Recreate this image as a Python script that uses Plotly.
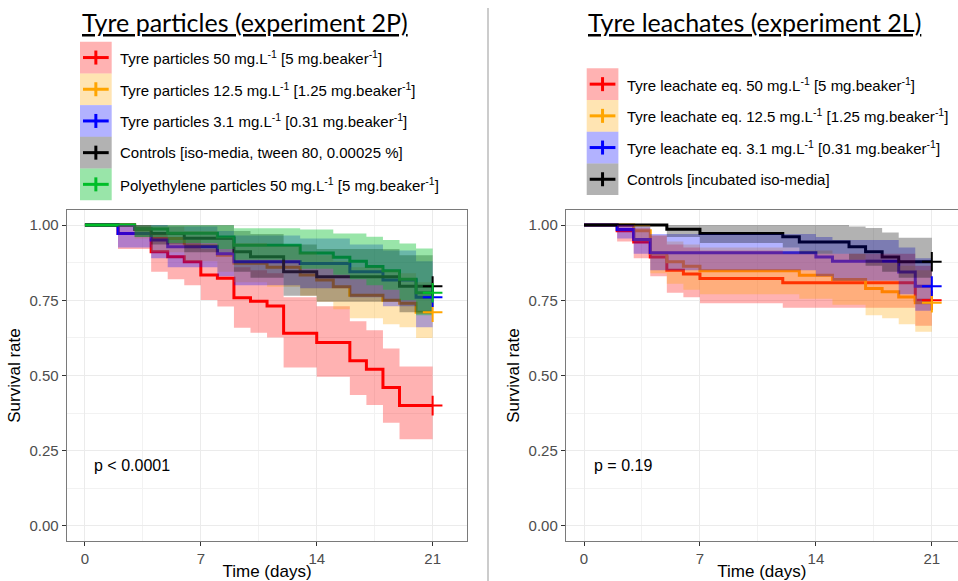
import plotly.graph_objects as go

W, H = 958, 581

# ---------------- Experiment 2P (tyre particles) ----------------
days_p50 = [0, 2, 4, 5, 6, 7, 8, 9, 10, 11, 12, 14, 16, 17, 18, 19, 21]
surv_p50 = [1, 0.972, 0.911, 0.895, 0.878, 0.834, 0.823, 0.758, 0.747, 0.731, 0.64, 0.61, 0.549, 0.521, 0.46, 0.40, 0.40]
up_p50 = [1, 1, 0.97, 0.96, 0.95, 0.92, 0.91, 0.86, 0.85, 0.84, 0.76, 0.73, 0.68, 0.65, 0.59, 0.53, 0.53]
lo_p50 = [1, 0.92, 0.845, 0.82, 0.80, 0.751, 0.729, 0.659, 0.642, 0.626, 0.527, 0.496, 0.435, 0.402, 0.343, 0.288, 0.288]

days_p12 = [0, 3, 4, 6, 8, 9, 11, 13, 14, 15, 16, 18, 19, 20, 21]
surv_p12 = [1, 0.985, 0.955, 0.93, 0.90, 0.873, 0.86, 0.834, 0.817, 0.795, 0.767, 0.75, 0.74, 0.71, 0.71]
up_p12 = [1, 1, 0.995, 0.98, 0.96, 0.94, 0.93, 0.91, 0.90, 0.88, 0.86, 0.85, 0.84, 0.81, 0.81]
lo_p12 = [1, 0.955, 0.91, 0.88, 0.845, 0.81, 0.795, 0.765, 0.745, 0.72, 0.69, 0.67, 0.66, 0.625, 0.625]

days_p3 = [0, 2, 4, 5, 8, 9, 13, 16, 18, 20, 21]
surv_p3 = [1, 0.972, 0.95, 0.928, 0.905, 0.878, 0.872, 0.845, 0.817, 0.76, 0.76]
up_p3 = [1, 1, 1, 0.995, 0.98, 0.965, 0.955, 0.935, 0.915, 0.88, 0.88]
lo_p3 = [1, 0.925, 0.89, 0.86, 0.83, 0.80, 0.79, 0.76, 0.73, 0.66, 0.66]

days_pc = [0, 3, 4, 6, 9, 10, 12, 14, 19, 21]
surv_pc = [1, 0.987, 0.972, 0.956, 0.911, 0.895, 0.845, 0.828, 0.797, 0.797]
up_pc = [1, 1, 1, 1, 0.98, 0.97, 0.935, 0.92, 0.90, 0.90]
lo_pc = [1, 0.96, 0.935, 0.91, 0.845, 0.825, 0.765, 0.745, 0.71, 0.71]

days_pe = [0, 3, 5, 8, 9, 13, 15, 16, 17, 18, 19, 20, 21]
surv_pe = [1, 0.987, 0.973, 0.96, 0.933, 0.907, 0.893, 0.88, 0.862, 0.848, 0.82, 0.775, 0.775]
up_pe = [1, 1, 1, 0.999, 0.989, 0.985, 0.972, 0.972, 0.961, 0.95, 0.939, 0.922, 0.922]
lo_pe = [1, 0.96, 0.94, 0.92, 0.885, 0.855, 0.835, 0.82, 0.80, 0.785, 0.75, 0.70, 0.70]

# ---------------- Experiment 2L (tyre leachates) ----------------
days_l50 = [0, 2, 3, 4, 5, 6, 7, 12, 20, 21]
surv_l50 = [1, 0.981, 0.944, 0.894, 0.85, 0.837, 0.822, 0.808, 0.75, 0.75]
up_l50 = [1, 1, 0.99, 0.965, 0.935, 0.925, 0.915, 0.905, 0.865, 0.865]
lo_l50 = [1, 0.945, 0.89, 0.83, 0.775, 0.76, 0.74, 0.725, 0.665, 0.665]

days_l12 = [0, 3, 4, 5, 6, 7, 13, 15, 17, 18, 19, 20, 21]
surv_l12 = [1, 0.981, 0.906, 0.878, 0.863, 0.848, 0.833, 0.819, 0.789, 0.778, 0.761, 0.742, 0.742]
up_l12 = [1, 1, 0.965, 0.945, 0.935, 0.925, 0.915, 0.905, 0.885, 0.875, 0.865, 0.85, 0.85]
lo_l12 = [1, 0.945, 0.84, 0.805, 0.785, 0.77, 0.755, 0.735, 0.70, 0.69, 0.67, 0.645, 0.645]

days_l3 = [0, 2, 3, 4, 14, 15, 19, 20, 21]
surv_l3 = [1, 0.985, 0.952, 0.908, 0.894, 0.88, 0.844, 0.797, 0.797]
up_l3 = [1, 1, 0.995, 0.97, 0.96, 0.95, 0.925, 0.89, 0.89]
lo_l3 = [1, 0.955, 0.905, 0.85, 0.83, 0.815, 0.77, 0.715, 0.715]

days_lc = [0, 5, 7, 12, 13, 16, 17, 18, 19, 21]
surv_lc = [1, 0.986, 0.972, 0.961, 0.944, 0.928, 0.911, 0.894, 0.878, 0.878]
up_lc = [1, 1, 1, 1, 1, 0.995, 0.99, 0.975, 0.958, 0.958]
lo_lc = [1, 0.96, 0.94, 0.925, 0.905, 0.885, 0.865, 0.845, 0.825, 0.825]

labels_2p = [
    "Tyre particles 50 mg.L<sup>-1</sup> [5 mg.beaker<sup>-1</sup>]",
    "Tyre particles 12.5 mg.L<sup>-1</sup> [1.25 mg.beaker<sup>-1</sup>]",
    "Tyre particles 3.1 mg.L<sup>-1</sup> [0.31 mg.beaker<sup>-1</sup>]",
    "Controls [iso-media, tween 80, 0.00025 %]",
    "Polyethylene particles 50 mg.L<sup>-1</sup> [5 mg.beaker<sup>-1</sup>]",
]
labels_2l = [
    "Tyre leachate eq. 50 mg.L<sup>-1</sup> [5 mg.beaker<sup>-1</sup>]",
    "Tyre leachate eq. 12.5 mg.L<sup>-1</sup> [1.25 mg.beaker<sup>-1</sup>]",
    "Tyre leachate eq. 3.1 mg.L<sup>-1</sup> [0.31 mg.beaker<sup>-1</sup>]",
    "Controls [incubated iso-media]",
]
titles = ["Tyre particles (experiment 2P)", "Tyre leachates (experiment 2L)"]
pvals = ["p < 0.0001", "p = 0.19"]
x_ticks = [0, 7, 14, 21]
y_ticks = [0, 0.25, 0.5, 0.75, 1.0]
y_ticktext = ["0.00", "0.25", "0.50", "0.75", "1.00"]

RED, ORANGE, BLUE, BLACK, GREEN = "#FF0000", "#FFA500", "#0000FF", "#000000", "#00BE28"
FILLS = {
    RED: "rgba(255,0,0,0.30)",
    ORANGE: "rgba(255,165,0,0.30)",
    BLUE: "rgba(0,0,255,0.30)",
    BLACK: "rgba(0,0,0,0.30)",
    GREEN: "rgba(0,190,40,0.40)",
}

groups_2p = [
    (days_p50, surv_p50, up_p50, lo_p50, RED),
    (days_p12, surv_p12, up_p12, lo_p12, ORANGE),
    (days_p3, surv_p3, up_p3, lo_p3, BLUE),
    (days_pc, surv_pc, up_pc, lo_pc, BLACK),
    (days_pe, surv_pe, up_pe, lo_pe, GREEN),
]
groups_2l = [
    (days_l50, surv_l50, up_l50, lo_l50, RED),
    (days_l12, surv_l12, up_l12, lo_l12, ORANGE),
    (days_l3, surv_l3, up_l3, lo_l3, BLUE),
    (days_lc, surv_lc, up_lc, lo_lc, BLACK),
]


def step_path(t, v):
    xs, ys = [], []
    for i in range(len(t)):
        if i > 0:
            xs.append(t[i])
            ys.append(v[i - 1])
        xs.append(t[i])
        ys.append(v[i])
    return xs, ys


fig = go.Figure()


def add_panel(groups, xa, ya):
    # lines first
    for t, s, u, l, c in groups:
        xs, ys = step_path(t, s)
        fig.add_trace(go.Scatter(x=xs, y=ys, mode="lines", line=dict(color=c, width=3),
                                 xaxis=xa, yaxis=ya, showlegend=False, hoverinfo="skip"))
    # confidence bands on top
    for t, s, u, l, c in groups:
        xu, yu = step_path(t, u)
        xl, yl = step_path(t, l)
        fig.add_trace(go.Scatter(x=xu + xl[::-1], y=yu + yl[::-1], mode="lines", fill="toself",
                                 fillcolor=FILLS[c], line=dict(width=0, color="rgba(0,0,0,0)"),
                                 xaxis=xa, yaxis=ya, showlegend=False, hoverinfo="skip"))
    # censor marks
    for t, s, u, l, c in groups:
        fig.add_trace(go.Scatter(x=[t[-1]], y=[s[-1]], mode="markers",
                                 marker=dict(symbol="cross-thin", size=14, line=dict(color=c, width=2)),
                                 xaxis=xa, yaxis=ya, showlegend=False, hoverinfo="skip"))


add_panel(groups_2p, "x", "y")
add_panel(groups_2l, "x2", "y2")

ydom = [1 - 541 / H, 1 - 210 / H]
axis_common = dict(
    showgrid=True, gridcolor="#EBEBEB", gridwidth=1, zeroline=False,
    ticks="outside", ticklen=4, tickcolor="#333333", tickwidth=1,
    showline=True, linecolor="#7A7A7A", linewidth=1,
    tickfont=dict(family="Liberation Sans", size=15, color="#4D4D4D"),
)
xcommon = dict(axis_common, tickvals=x_ticks,
               minor=dict(tickvals=[3.5, 10.5, 17.5], showgrid=True, gridcolor="#F2F2F2", gridwidth=1, ticks=""),
               title=dict(text="Time (days)", font=dict(family="Liberation Sans", size=17, color="black"), standoff=2))
ycommon = dict(axis_common, tickvals=y_ticks, ticktext=y_ticktext, range=[-0.05, 1.05],
               minor=dict(tickvals=[0.125, 0.375, 0.625, 0.875], showgrid=True, gridcolor="#F2F2F2", gridwidth=1, ticks=""),
               title=dict(text="Survival rate", font=dict(family="Liberation Sans", size=17, color="black"), standoff=4))

fig.update_layout(
    width=W, height=H, margin=dict(l=0, r=0, t=0, b=0),
    paper_bgcolor="white", plot_bgcolor="white", showlegend=False,
    xaxis=dict(xcommon, domain=[66.7 / W, 467.4 / W], range=[-1.1, 23.1], anchor="y", mirror=True),
    yaxis=dict(ycommon, domain=ydom, anchor="x", mirror=True),
    xaxis2=dict(xcommon, domain=[565.8 / W, 1.0], range=[-1.1, 22.58], anchor="y2", mirror=True),
    yaxis2=dict(ycommon, domain=ydom, anchor="x2", mirror=False),
)

shapes = []
annotations = []


def px(x):
    return x / W


def py(y):
    return 1 - y / H


# separator
shapes.append(dict(type="line", xref="paper", yref="paper", x0=px(488), x1=px(488), y0=py(8), y1=0,
                   line=dict(color="#999999", width=1)))

# titles
for title, cx in zip(titles, [245, 754]):
    annotations.append(dict(text="<span style='text-decoration:underline'>" + title + "</span>",
                            xref="paper", yref="paper", x=px(cx), y=py(22), xanchor="center", yanchor="middle",
                            showarrow=False, font=dict(family="Lato", size=25, color="black")))

# legends
def add_legend(labels, colors, x0, top):
    bh = 31.7
    bw = 31.7
    for i, (lab, c) in enumerate(zip(labels, colors)):
        y0 = top + i * bh
        cy = y0 + bh / 2
        shapes.append(dict(type="rect", xref="paper", yref="paper", x0=px(x0), x1=px(x0 + bw),
                           y0=py(y0 + bh), y1=py(y0), fillcolor=FILLS[c], line=dict(width=0)))
        shapes.append(dict(type="line", xref="paper", yref="paper", x0=px(x0 + 3), x1=px(x0 + bw - 3),
                           y0=py(cy), y1=py(cy), line=dict(color=c, width=3)))
        shapes.append(dict(type="line", xref="paper", yref="paper", x0=px(x0 + bw / 2), x1=px(x0 + bw / 2),
                           y0=py(cy - 7), y1=py(cy + 7), line=dict(color=c, width=3)))
        annotations.append(dict(text=lab, xref="paper", yref="paper", x=px(x0 + bw + 6.5), y=py(cy),
                                xanchor="left", yanchor="middle", showarrow=False,
                                font=dict(family="Liberation Sans", size=15, color="black")))


add_legend(labels_2p, [RED, ORANGE, BLUE, BLACK, GREEN], 80, 41.7)
add_legend(labels_2l, [RED, ORANGE, BLUE, BLACK], 586.7, 68.3)

# p-values
annotations.append(dict(text=pvals[0], xref="x", yref="y", x=0.42, y=0.2, xanchor="left", yanchor="middle",
                        showarrow=False, font=dict(family="Liberation Sans", size=16, color="black")))
annotations.append(dict(text=pvals[1], xref="x2", yref="y2", x=0.48, y=0.2, xanchor="left", yanchor="middle",
                        showarrow=False, font=dict(family="Liberation Sans", size=16, color="black")))

fig.update_layout(shapes=shapes, annotations=annotations)
fig.write_html("out.html")
